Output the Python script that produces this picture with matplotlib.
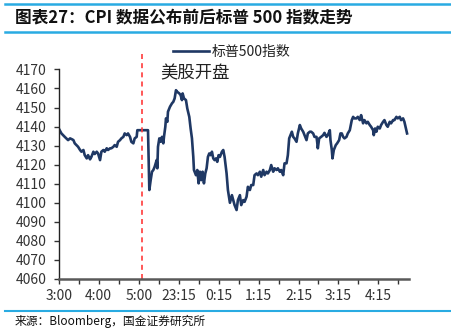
import matplotlib
matplotlib.use("Agg")
import matplotlib.pyplot as plt
from matplotlib.lines import Line2D

plt.rcParams['font.family'] = ['Noto Sans CJK SC', 'DejaVu Sans']

# minute offset on the category axis (0 = 3:00) and S&P 500 level
minutes = [0, 4, 9, 14, 17, 20, 22, 24, 29, 32, 34, 37, 39, 42, 44, 47, 49, 52, 54, 57,
           59, 62, 64, 67, 69, 72, 74, 77, 79, 82, 84, 87, 89, 92, 94, 97, 99, 102, 104, 107,
           109, 112, 114, 117, 118, 126, 134,
           136, 138, 140, 142, 144, 147, 148, 149, 151, 153, 155, 157, 158, 160, 161, 163, 164, 167,
           170, 172, 174, 176, 178, 181, 183, 185, 186, 188, 191, 193, 196, 198, 200, 202, 203,
           206, 208, 210, 212, 214, 216, 218, 220, 222, 224, 226, 228, 230, 232, 234, 236, 238,
           240, 242, 245, 247, 249, 252, 254, 257, 260, 262, 264, 267, 269, 272, 274, 277, 279,
           282, 284, 287, 289, 292, 294, 297, 299, 302, 304, 307, 309, 312, 314, 317, 319, 322,
           324, 327, 329, 332, 334, 337, 339, 342, 344, 346, 348, 350, 352, 354, 357, 359, 362,
           364, 367, 369, 372, 374, 377, 379, 382, 384, 387, 388, 389, 391, 394, 397, 399, 402,
           404, 407, 408, 410, 411, 413, 416, 418, 421, 423, 425, 427, 429, 432, 434, 437, 440,
           442, 444, 447, 449, 452, 454, 457, 459, 462, 464, 467, 469, 472, 473, 475, 477, 479,
           482, 484, 487, 489, 492, 494, 497, 499, 502, 504, 507, 509, 512, 514, 517, 519, 522, 523]
spx = [4139.0, 4136.4, 4134.6, 4132.9, 4133.8, 4133.3, 4132.9, 4131.2, 4129.4, 4127.7,
       4126.8, 4127.7, 4125.0, 4123.3, 4125.0, 4122.8, 4124.1, 4126.8, 4125.6, 4126.8,
       4125.9, 4122.4, 4126.8, 4127.7, 4126.8, 4128.6, 4127.7, 4128.6, 4128.6, 4129.4,
       4130.3, 4129.4, 4132.0, 4132.9, 4133.8, 4134.6, 4136.4, 4135.5, 4136.4, 4134.6,
       4132.0, 4131.2, 4133.8, 4134.6, 4138.1, 4138.1, 4138.1,
       4106.7, 4111.9, 4116.3, 4117.2, 4118.9, 4122.4, 4118.1, 4129.4, 4133.8, 4132.0,
       4134.6, 4131.2, 4134.6, 4139.9, 4144.3, 4142.5, 4147.8, 4150.4,
       4152.2, 4153.0, 4154.8, 4159.1, 4158.2, 4157.4, 4156.5, 4153.9, 4157.4, 4154.8,
       4153.9, 4149.5, 4145.1, 4139.0, 4133.8, 4124.1, 4117.2,
       4114.5, 4117.2, 4110.2, 4116.3, 4111.9, 4116.3, 4110.2, 4115.4, 4118.1, 4124.1,
       4125.9, 4125.0, 4126.8, 4123.3, 4122.4, 4123.3, 4121.5,
       4125.0, 4124.1, 4126.8, 4127.7, 4124.1, 4115.4, 4106.7, 4100.0, 4104.0, 4101.4,
       4098.8, 4096.2, 4101.4, 4104.0, 4098.8, 4101.4, 4100.5,
       4103.2, 4108.4, 4106.7, 4109.3, 4109.3, 4114.5, 4115.4, 4114.5, 4116.3, 4113.7,
       4117.2, 4114.5, 4116.3, 4115.4, 4117.2, 4119.8, 4116.3,
       4118.1, 4117.2, 4118.1, 4116.3, 4117.2, 4114.5, 4120.7, 4120.7, 4125.0, 4133.8,
       4135.5, 4137.3, 4134.6, 4133.8, 4132.0, 4136.4, 4140.8,
       4139.0, 4137.3, 4135.5, 4132.9, 4136.4, 4137.3, 4137.3, 4136.4, 4134.6, 4134.6,
       4132.0, 4128.6, 4133.8, 4134.6, 4135.5, 4136.7, 4134.6,
       4135.5, 4138.1, 4132.9, 4127.7, 4123.3, 4127.7, 4130.3, 4131.2, 4132.9, 4136.4,
       4136.4, 4134.6, 4133.8, 4134.6, 4136.4, 4138.1, 4143.4,
       4145.1, 4144.3, 4144.3, 4145.1, 4143.4, 4146.0, 4141.7, 4143.4, 4141.7, 4142.5,
       4140.8, 4139.9, 4138.1, 4135.5, 4139.0, 4137.3, 4139.9,
       4139.0, 4140.8, 4142.5, 4143.4, 4140.8, 4139.9, 4142.5, 4141.7, 4143.4, 4143.4,
       4145.1, 4144.3, 4145.1, 4143.4, 4144.3, 4142.5, 4138.1, 4136.4]

tick_minutes = list(range(0, 511, 30))
tick_labels = ["3:00", "", "4:00", "", "5:00", "", "23:15", "", "0:15", "",
               "1:15", "", "2:15", "", "3:15", "", "4:15", ""]
open_minute = 125

fig = plt.figure(figsize=(4.52, 3.29), dpi=100)
ax = fig.add_axes([0.130, 0.152, 0.775, 0.637])

ax.plot(minutes, spx, color='#1F3864', lw=1.9, label='标普500指数')
ax.plot([open_minute, open_minute], [4060, 4178], color='#FF3B3B', lw=1.2,
        ls=(0, (3, 2.5)), clip_on=False)

ax.set_xlim(0, 526)
ax.set_ylim(4060, 4170)
ax.set_yticks(range(4060, 4171, 10))
ax.set_xticks(tick_minutes)
ax.set_xticklabels(tick_labels)

for s in ['top', 'right']:
    ax.spines[s].set_visible(False)
ax.spines['left'].set_color('#222222')
ax.spines['left'].set_linewidth(1.0)
ax.spines['bottom'].set_color('#595959')
ax.spines['bottom'].set_linewidth(1.8)
ax.tick_params(axis='both', direction='out', length=3.5, width=1.0, color='#333333',
               labelsize=10, labelcolor='#333333')
ax.tick_params(axis='y', pad=5)
ax.tick_params(axis='x', pad=4)

ax.legend(loc='upper left', bbox_to_anchor=(0.31, 1.145), frameon=False, fontsize=10,
          handlelength=2.6, handletextpad=0.2, borderaxespad=0, labelcolor='#222222')
ax.text(152, 4168, '美股开盘', fontsize=12.5, color='#222222', va='center')

# header and footer
fig.add_artist(Line2D([0.01, 1.0], [0.988, 0.988], color='#29ABE2', lw=1.8))
fig.add_artist(Line2D([0.01, 1.0], [0.902, 0.902], color='#29ABE2', lw=1.8))
fig.text(0.033, 0.947, '图表27：CPI 数据公布前后标普 500 指数走势', fontsize=12,
         fontweight='bold', style='italic', color='#111111', va='center')
fig.add_artist(Line2D([0.01, 1.0], [0.055, 0.055], color='#29ABE2', lw=1.5))
fig.text(0.033, 0.024, '来源：Bloomberg，国金证券研究所', fontsize=8.5, color='#111111', va='center')

plt.savefig('out.png', dpi=100)
